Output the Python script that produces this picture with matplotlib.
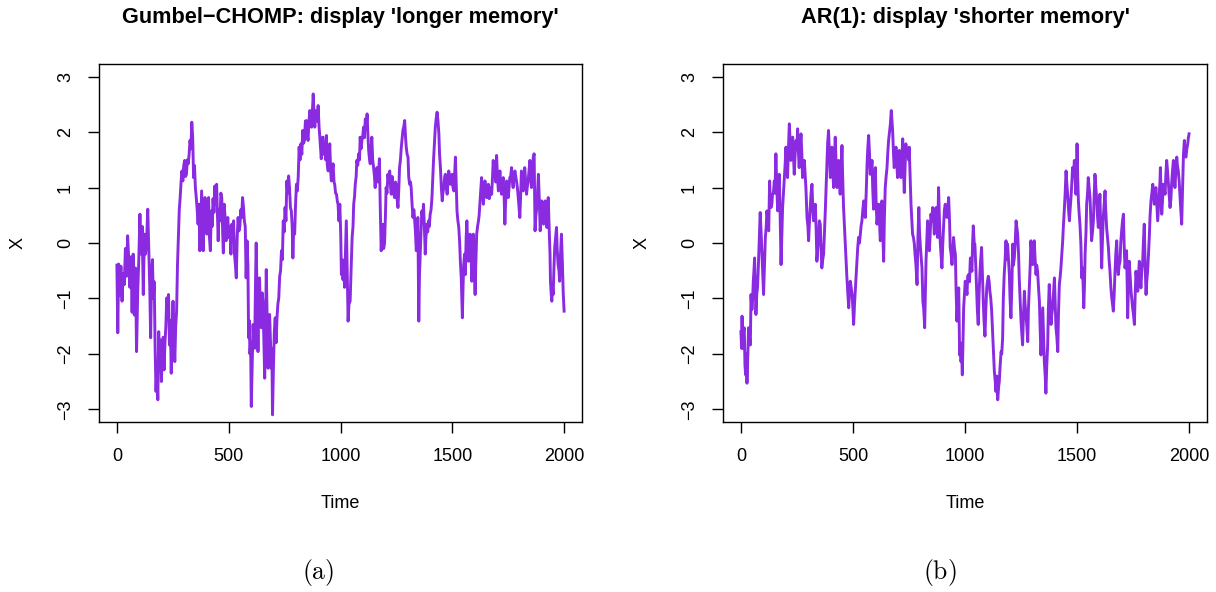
import numpy as np
from matplotlib import pyplot as plt

plt.rcParams['font.family'] = ['Liberation Sans', 'DejaVu Sans']
plt.rcParams['mathtext.fontset'] = 'cm'

# left panel: Gumbel-CHOMP series (time, value)
time_a = [0, 4, 8, 13, 18, 23, 28, 33, 38, 43, 48, 53, 58, 63, 68, 73, 78, 83, 88, 93,
          98, 103, 108, 113, 118, 123, 128, 133, 138, 143, 147, 151, 155, 159, 163, 167, 171, 175, 179, 183,
          187, 191, 195, 199, 203, 207, 211, 215, 219, 223, 227, 231, 235, 239, 243, 247, 251, 255, 259, 263,
          267, 271, 275, 279, 283, 287, 291, 295, 299, 303, 307, 311, 315, 319, 323, 327, 331, 335, 339, 343,
          347, 351, 355, 359, 363, 367, 371, 375, 379, 383, 386, 390, 394, 398, 402, 406, 410, 414, 418, 422,
          426, 430, 434, 438, 442, 446, 450, 453, 457, 461, 465, 469, 473, 476, 480, 484, 488, 492, 496, 500,
          505, 510, 514, 518, 522, 526, 530, 534, 538, 542, 546, 550, 554, 558, 562, 566, 570, 574, 578, 582,
          586, 589, 592, 595, 598, 601, 605, 609, 612, 616, 620, 623, 627, 631, 634, 638, 642, 646, 650, 653,
          657, 661, 665, 668, 672, 676, 680, 683, 687, 690, 693, 696, 700, 704, 708, 712, 716, 720, 724, 728,
          732, 736, 740, 744, 748, 752, 756, 760, 764, 768, 772, 776, 780, 784, 787, 791, 795, 799, 803, 807,
          811, 815, 819, 823, 827, 831, 835, 839, 843, 847, 851, 855, 859, 863, 867, 871, 875, 878, 882, 885,
          889, 892, 896, 900, 904, 907, 911, 914, 918, 922, 926, 930, 934, 937, 941, 945, 949, 952, 956, 959,
          963, 967, 971, 974, 978, 982, 986, 989, 993, 997, 1001, 1004, 1008, 1011, 1015, 1018, 1022, 1026, 1030, 1034,
          1038, 1043, 1048, 1052, 1056, 1059, 1063, 1066, 1070, 1073, 1077, 1081, 1085, 1088, 1092, 1096, 1100, 1103, 1107, 1111,
          1115, 1119, 1122, 1126, 1130, 1133, 1137, 1140, 1144, 1148, 1152, 1155, 1159, 1163, 1167, 1170, 1174, 1178, 1182, 1186,
          1189, 1193, 1197, 1201, 1204, 1208, 1212, 1216, 1220, 1224, 1227, 1231, 1234, 1238, 1242, 1246, 1249, 1253, 1257, 1261,
          1264, 1268, 1272, 1276, 1279, 1283, 1287, 1291, 1294, 1298, 1302, 1305, 1309, 1313, 1316, 1320, 1324, 1328, 1331, 1335,
          1339, 1343, 1346, 1350, 1353, 1357, 1361, 1364, 1368, 1371, 1375, 1379, 1382, 1386, 1390, 1394, 1397, 1401, 1405, 1409,
          1413, 1416, 1420, 1424, 1428, 1432, 1436, 1440, 1443, 1447, 1451, 1455, 1458, 1462, 1466, 1469, 1473, 1477, 1481, 1484,
          1488, 1492, 1495, 1499, 1503, 1507, 1510, 1514, 1518, 1521, 1525, 1529, 1533, 1536, 1540, 1545, 1548, 1551, 1555, 1558,
          1562, 1565, 1569, 1572, 1576, 1580, 1584, 1587, 1591, 1594, 1598, 1602, 1605, 1609, 1613, 1617, 1620, 1624, 1628, 1631,
          1635, 1639, 1642, 1646, 1650, 1654, 1657, 1661, 1665, 1669, 1672, 1676, 1680, 1683, 1687, 1691, 1694, 1698, 1702, 1706,
          1709, 1713, 1717, 1720, 1724, 1728, 1732, 1735, 1739, 1743, 1746, 1750, 1754, 1757, 1761, 1765, 1769, 1772, 1776, 1780,
          1784, 1787, 1791, 1795, 1799, 1802, 1806, 1809, 1813, 1817, 1821, 1824, 1828, 1832, 1835, 1839, 1843, 1847, 1850, 1854,
          1858, 1862, 1866, 1870, 1874, 1878, 1882, 1885, 1889, 1893, 1897, 1900, 1904, 1908, 1912, 1915, 1919, 1923, 1926, 1929,
          1932, 1934, 1937, 1939, 1942, 1945, 1948, 1951, 1955, 1958, 1962, 1966, 1969, 1973, 1977, 1980, 1984, 1988, 1992, 1996,
          2000]
x_a = [-0.40, -1.62, -0.38, -0.95, -0.42, -1.05, -0.55, -0.75, -0.10, -0.60, 0.13, -0.30, -0.80, -0.25, -1.25, -0.20, -1.30, -0.45, -1.96, -0.90,
       -0.30, 0.52, -0.20, 0.30, -0.93, 0.16, -0.20, 0.05, 0.61, -0.20, -0.80, -1.71, -0.60, -0.30, -1.00, -0.70, -1.90, -2.68, -2.20, -2.83,
       -1.60, -2.30, -1.75, -2.50, -1.95, -1.70, -2.29, -1.80, -1.50, -0.99, -1.30, -0.93, -1.84, -1.40, -2.35, -1.60, -1.05, -1.70, -2.14, -1.50,
       -1.23, -0.40, 0.10, 0.60, 0.82, 1.10, 1.30, 1.12, 1.40, 1.49, 1.20, 1.24, 1.50, 1.43, 1.60, 1.85, 1.70, 2.18, 1.90, 1.18,
       1.40, 1.00, 0.82, 0.60, 0.34, 0.70, -0.14, 0.40, 0.94, 0.30, -0.14, 0.50, 0.82, 0.20, 0.16, 0.60, 0.82, 0.10, -0.14, 0.58,
       0.30, 0.80, 0.55, 1.03, 0.70, 1.06, 0.50, 0.04, 0.60, 0.40, 0.90, 0.82, 0.20, -0.18, 0.70, 0.45, 0.04, 0.30, 0.46, 0.10,
       0.30, -0.20, 0.34, 0.10, 0.40, -0.20, -0.40, -0.63, 0.10, 0.46, 0.22, 0.30, 0.60, 0.46, 0.82, 0.65, 0.40, 0.30, -0.63, 0.04,
       -0.40, -1.71, -1.40, -2.00, -1.80, -2.95, -2.20, -1.47, -1.80, -1.90, -0.70, 0.00, -1.00, -1.96, -1.20, -0.63, -1.30, -1.53, -0.90, -1.05,
       -1.70, -2.44, -1.50, -0.48, -1.40, -2.26, -1.60, -1.29, -1.80, -2.26, -1.90, -3.10, -2.26, -1.60, -1.35, -1.80, -1.35, -1.10, -0.99, -0.60,
       -0.50, -0.14, -0.30, 0.40, 0.20, 0.64, 0.40, 1.12, 0.90, 1.21, 1.00, 0.64, 0.58, 0.30, -0.27, 0.30, 0.16, 0.70, 1.06, 0.94,
       1.20, 1.73, 1.50, 1.79, 1.60, 2.03, 1.80, 1.85, 2.20, 2.21, 1.95, 1.85, 2.20, 2.39, 2.10, 2.09, 2.45, 2.69, 2.30, 2.09,
       2.30, 2.39, 2.20, 2.48, 2.10, 1.94, 1.70, 1.52, 1.90, 1.91, 1.60, 1.79, 1.50, 1.94, 1.40, 1.30, 1.60, 1.79, 1.30, 1.12,
       1.30, 1.43, 1.10, 1.06, 0.90, 0.88, 0.75, 0.70, 0.40, 0.70, 0.16, -0.57, -0.30, -0.66, -0.40, -0.80, -0.20, 0.40, -0.50, -1.41,
       -1.10, -1.05, -0.40, 0.10, 0.30, 0.70, 0.85, 1.06, 1.20, 1.49, 1.40, 1.61, 1.50, 1.91, 1.70, 1.85, 1.95, 2.09, 1.90, 2.24,
       2.10, 2.33, 2.00, 1.67, 1.50, 1.43, 1.70, 1.91, 1.50, 1.36, 1.20, 1.00, 1.30, 1.36, 1.10, 1.18, 1.52, 0.60, -0.14, 0.20,
       0.34, -0.10, 0.00, 0.50, 1.00, 0.90, 1.24, 1.10, 1.30, 1.00, 0.88, 1.20, 1.06, 0.90, 0.82, 1.10, 1.06, 0.80, 0.64, 1.00,
       1.36, 1.50, 1.73, 1.90, 2.03, 2.10, 2.21, 1.90, 1.73, 1.60, 1.55, 1.20, 1.06, 1.10, 1.00, 0.70, 0.46, 0.60, 0.46, 0.20,
       -0.14, 0.20, 0.46, -1.41, -0.60, -0.14, 0.30, 0.58, 0.40, 0.70, 0.30, -0.20, 0.10, 0.34, 0.20, 0.40, 0.30, 0.52, 0.60, 0.82,
       1.20, 1.49, 1.80, 2.09, 2.25, 2.36, 2.20, 1.97, 1.60, 1.36, 1.00, 0.76, 0.90, 1.00, 1.20, 1.24, 1.00, 0.88, 1.10, 1.30,
       1.20, 1.06, 1.15, 1.24, 1.00, 0.94, 1.20, 1.55, 1.00, 0.58, 0.40, 0.28, 0.00, -0.33, -0.63, -1.35, -0.80, -0.39, -0.20, -0.57,
       0.10, 0.40, 0.00, -0.33, 0.00, 0.16, -0.20, -0.69, -0.30, 0.16, -0.40, -0.93, -0.40, 0.16, 0.30, 0.40, 0.50, 0.76, 1.00, 1.18,
       0.90, 0.70, 0.90, 1.12, 0.90, 0.82, 1.00, 1.06, 0.80, 0.88, 1.00, 0.88, 1.20, 1.49, 1.20, 1.36, 1.10, 1.58, 1.20, 0.94,
       1.10, 1.30, 1.00, 0.88, 1.10, 1.18, 0.80, 0.34, 0.80, 1.12, 1.00, 0.82, 1.00, 1.18, 1.20, 1.36, 1.10, 1.00, 1.20, 1.30,
       1.20, 1.12, 1.00, 0.82, 0.60, 0.46, 0.90, 1.30, 1.10, 0.94, 1.20, 1.36, 1.10, 0.88, 1.00, 1.12, 1.30, 1.49, 1.20, 1.00,
       1.30, 1.55, 1.61, 0.22, 0.50, 0.64, 1.00, 1.24, 0.80, 0.22, 0.50, 0.76, 0.60, 0.34, 0.50, 0.76, 0.50, 0.28, 0.60, 0.82,
       0.40, 0.16, -0.20, -0.69, -0.90, -1.05, -0.80, -0.93, -0.40, -0.08, 0.10, 0.28, -0.10, -0.39, -0.50, -0.69, -0.20, 0.16, -0.33, -0.90,
       -1.23]

# right panel: AR(1) series
time_b = [0, 3, 5, 8, 11, 15, 18, 21, 24, 27, 31, 34, 38, 42, 45, 49, 52, 55, 58, 61,
          64, 67, 71, 74, 78, 82, 86, 90, 94, 97, 101, 105, 109, 113, 116, 120, 124, 128, 131, 134,
          138, 141, 145, 149, 152, 156, 160, 164, 167, 171, 175, 179, 183, 186, 190, 193, 197, 201, 205, 208,
          212, 216, 220, 223, 227, 231, 235, 238, 242, 246, 250, 253, 257, 260, 264, 268, 272, 275, 279, 283,
          287, 290, 293, 295, 299, 302, 306, 310, 313, 317, 321, 324, 328, 332, 336, 339, 343, 347, 350, 354,
          358, 361, 365, 369, 372, 376, 380, 384, 387, 391, 395, 399, 402, 406, 410, 414, 417, 421, 425, 429,
          432, 436, 440, 443, 447, 451, 454, 458, 462, 466, 469, 473, 477, 481, 484, 488, 492, 496, 500, 503,
          507, 510, 514, 518, 521, 525, 529, 533, 536, 540, 544, 548, 551, 555, 559, 563, 566, 570, 574, 577,
          581, 585, 588, 592, 596, 600, 603, 607, 611, 615, 618, 622, 626, 629, 633, 637, 640, 644, 648, 652,
          655, 659, 663, 667, 671, 674, 677, 681, 684, 688, 692, 696, 699, 703, 707, 711, 714, 718, 722, 725,
          729, 733, 736, 740, 744, 748, 751, 755, 759, 763, 766, 770, 774, 777, 781, 784, 786, 790, 794, 797,
          801, 805, 808, 812, 816, 820, 823, 826, 830, 833, 837, 841, 845, 848, 852, 856, 860, 863, 867, 871,
          875, 878, 882, 886, 890, 893, 897, 901, 905, 908, 912, 916, 920, 923, 927, 931, 934, 938, 942, 946,
          949, 953, 957, 960, 964, 968, 972, 974, 976, 979, 982, 985, 988, 991, 994, 998, 1001, 1005, 1009, 1012,
          1016, 1020, 1024, 1027, 1031, 1034, 1037, 1041, 1044, 1048, 1052, 1055, 1059, 1063, 1067, 1070, 1074, 1078, 1082, 1085,
          1089, 1093, 1097, 1100, 1104, 1108, 1111, 1115, 1119, 1122, 1126, 1129, 1131, 1135, 1138, 1142, 1146, 1150, 1153, 1157,
          1161, 1164, 1168, 1171, 1175, 1179, 1183, 1186, 1190, 1194, 1198, 1201, 1205, 1209, 1213, 1216, 1220, 1224, 1228, 1231,
          1235, 1239, 1242, 1246, 1250, 1253, 1257, 1261, 1265, 1268, 1272, 1276, 1280, 1283, 1287, 1291, 1294, 1298, 1302, 1305,
          1309, 1313, 1317, 1320, 1324, 1328, 1332, 1335, 1339, 1343, 1347, 1350, 1354, 1358, 1361, 1365, 1369, 1372, 1376, 1380,
          1384, 1387, 1391, 1395, 1399, 1402, 1406, 1410, 1414, 1417, 1421, 1425, 1428, 1432, 1436, 1439, 1443, 1447, 1451, 1454,
          1458, 1462, 1466, 1469, 1473, 1477, 1480, 1484, 1488, 1491, 1495, 1498, 1500, 1503, 1506, 1510, 1513, 1517, 1521, 1525,
          1530, 1533, 1536, 1540, 1543, 1547, 1550, 1554, 1558, 1562, 1565, 1569, 1573, 1576, 1580, 1584, 1588, 1591, 1595, 1599,
          1602, 1606, 1610, 1613, 1617, 1621, 1625, 1628, 1632, 1636, 1640, 1643, 1647, 1651, 1655, 1658, 1662, 1666, 1669, 1673,
          1677, 1680, 1684, 1688, 1692, 1695, 1699, 1703, 1707, 1710, 1714, 1718, 1721, 1724, 1726, 1730, 1733, 1737, 1741, 1744,
          1748, 1752, 1756, 1759, 1763, 1767, 1771, 1774, 1778, 1782, 1785, 1789, 1793, 1796, 1800, 1804, 1808, 1811, 1815, 1819,
          1823, 1826, 1830, 1834, 1838, 1841, 1845, 1849, 1852, 1856, 1860, 1863, 1867, 1870, 1872, 1875, 1878, 1882, 1885, 1889,
          1893, 1896, 1900, 1904, 1908, 1911, 1915, 1919, 1922, 1926, 1930, 1933, 1937, 1941, 1945, 1948, 1952, 1956, 1959, 1963,
          1967, 1969, 1971, 1975, 1979, 1982, 1986, 1990, 1994, 1997, 2000]
x_b = [-1.60, -1.90, -1.32, -1.90, -1.60, -1.53, -2.20, -2.38, -2.00, -2.53, -2.00, -1.53, -1.70, -1.84, -0.93, -1.20, -1.05, -0.70, -0.51, -0.27,
       -0.80, -1.29, -0.90, -0.81, -0.40, 0.10, 0.55, 0.20, -0.20, -0.50, -0.93, -0.40, 0.10, 0.30, 0.58, 0.40, 0.22, 1.12, 0.80, 0.64,
       0.70, 0.88, 0.90, 1.12, 0.90, 1.61, 1.00, 0.58, 1.00, 1.24, 0.50, -0.39, 0.20, 0.64, 0.90, 1.12, 1.40, 1.73, 1.40, 1.18,
       1.70, 2.15, 1.80, 1.49, 1.70, 1.91, 1.50, 1.24, 1.60, 1.85, 1.70, 2.06, 1.60, 1.36, 1.70, 1.97, 1.60, 1.18, 1.40, 1.49,
       1.20, 1.00, 0.70, 0.46, 0.30, 0.04, 0.40, 0.70, 0.90, 1.06, 0.60, 0.40, 0.60, 0.70, 0.20, -0.33, -0.10, 0.10, 0.40, 0.34,
       -0.10, -0.45, -0.30, -0.20, 0.10, 0.52, 1.00, 1.49, 1.80, 2.03, 1.60, 1.18, 1.40, 1.73, 1.30, 1.00, 1.50, 1.91, 1.40, 1.00,
       1.20, 1.49, 1.10, 0.88, 1.30, 1.76, 1.20, 0.64, 0.30, -0.08, -0.30, -0.63, -0.90, -1.17, -0.90, -0.69, -0.80, -0.93, -1.20, -1.47,
       -1.10, -0.87, -0.60, -0.33, -0.10, 0.10, 0.00, 0.16, 0.30, 0.40, 0.60, 0.76, 0.60, 0.46, 0.90, 1.43, 1.70, 1.94, 1.60, 1.24,
       1.30, 1.49, 1.00, 0.61, 1.00, 1.36, 0.80, 0.34, 0.50, 0.70, 0.40, 0.04, 0.40, 0.76, 0.20, -0.33, 0.40, 1.00, 1.20, 1.36,
       1.60, 1.85, 2.00, 2.15, 2.39, 2.20, 2.03, 1.60, 1.36, 1.50, 1.73, 1.40, 1.18, 1.40, 1.67, 1.40, 1.18, 1.50, 1.88, 1.40,
       0.91, 1.40, 1.79, 1.60, 1.67, 1.50, 1.73, 1.20, 0.70, 0.40, 0.16, 0.10, -0.02, -0.20, -0.39, -0.60, -0.75, 0.10, 0.64, 0.20,
       -0.08, -0.30, -0.45, -1.05, -1.20, -1.53, -0.90, -0.33, 0.10, 0.40, 0.10, -0.14, 0.20, 0.52, 0.40, 0.64, 0.40, 0.16, 0.40, 0.64,
       0.30, 0.10, 1.00, 0.40, -0.02, -0.20, -0.45, 0.00, 0.34, 0.60, 0.70, 0.50, 0.46, 0.60, 0.82, 0.40, -0.08, -0.20, -0.39, -0.10,
       0.10, -0.10, -0.20, -0.80, -1.41, -1.00, -0.81, -1.50, -2.02, -1.80, -2.14, -2.00, -2.38, -1.80, -1.17, -0.90, -0.69, -0.80, -0.93, -0.60,
       -0.57, -0.70, -0.27, -0.40, -0.51, 0.00, 0.31, 0.00, -0.02, -0.40, -0.87, -1.20, -1.47, -0.90, -0.51, -0.30, -0.08, -0.60, -1.11, -1.40,
       -1.68, -1.20, -0.81, -0.70, -0.60, -0.70, -0.87, -1.00, -1.23, -1.50, -1.84, -2.10, -2.32, -2.50, -2.68, -2.40, -2.83, -2.60, -2.50, -2.20,
       -1.96, -2.00, -1.71, -1.00, -0.57, -0.30, 0.04, -0.30, -0.02, -0.30, -0.57, -1.00, -1.35, -0.80, -0.02, -0.40, -0.27, 0.00, 0.40, 0.30,
       0.16, -0.20, -0.63, -1.00, -1.41, -1.60, -1.84, -1.30, -0.87, -1.10, -1.29, -1.50, -1.78, -1.20, -0.81, -0.40, 0.04, -0.20, -0.39, -0.10,
       0.04, -0.30, -0.57, -0.40, -0.51, -0.80, -1.05, -1.50, -2.02, -1.60, -1.17, -1.60, -2.14, -2.40, -2.71, -2.20, -1.84, -1.20, -0.75, -1.10,
       -1.47, -1.30, -1.17, -0.90, -0.63, -1.00, -1.53, -1.70, -1.96, -1.30, -0.75, -0.60, -0.45, -0.20, 0.04, 0.30, 0.58, 0.90, 1.30, 1.10,
       0.88, 0.60, 0.40, 0.60, 0.82, 1.10, 1.36, 1.20, 1.49, 1.20, 0.88, 1.30, 1.79, 1.20, 0.76, 0.50, 0.34, 0.00, -0.63, -0.45,
       -1.17, -0.80, -0.20, 0.20, 0.70, 0.90, 1.18, 1.00, 0.82, 0.40, 0.04, 0.20, 0.40, 0.80, 1.24, 1.00, 0.76, 0.50, 0.28, 0.60,
       0.88, 0.20, -0.45, 0.00, 0.46, 0.70, 0.94, 0.60, 0.28, 0.10, -0.08, -0.30, -0.51, -0.80, -0.99, -1.10, -1.23, -0.90, -0.57, -0.20,
       0.04, -0.30, -0.57, -0.40, -0.33, 0.00, 0.22, 0.40, 0.52, 0.00, -0.45, -0.30, -0.14, -0.80, -1.35, -0.70, -0.33, -0.60, -0.87, -1.00,
       -1.17, -1.30, -1.47, -1.00, -0.51, -0.70, -0.87, -0.60, -0.33, -0.60, -0.81, -0.50, -0.33, 0.00, 0.34, -0.40, -0.93, -0.70, -0.51, -0.20,
       0.16, 0.50, 0.76, 0.90, 1.06, 0.90, 0.70, 0.90, 1.00, 0.70, 0.40, 0.60, 0.88, 1.10, 1.36, 0.90, 0.52, 0.80, 1.06, 1.00,
       0.88, 1.20, 1.49, 1.30, 1.06, 0.90, 0.64, 0.80, 1.06, 1.30, 1.49, 1.20, 1.00, 1.30, 1.55, 1.40, 1.30, 1.10, 0.88, 0.60,
       0.34, 0.70, 1.00, 1.60, 1.85, 1.60, 1.55, 1.70, 1.79, 1.90, 1.97]

titles = ["Gumbel\u2212CHOMP: display 'longer memory'", "AR(1): display 'shorter memory'"]
captions = ['(a)', '(b)']
xticks = [0, 500, 1000, 1500, 2000]
yticks = [-3, -2, -1, 0, 1, 2, 3]

W, H = 1216, 592
fig = plt.figure(figsize=(W / 100, H / 100), dpi=100)

# axes boxes in pixels (left, right), same top / bottom
boxes = [(99, 582), (723, 1207)]
top, bottom = 64, 422
caption_x = [318, 940]

series = [(time_a, x_a), (time_b, x_b)]

for i in range(2):
    l, r = boxes[i]
    ax = fig.add_axes([l / W, 1 - bottom / H, (r - l) / W, (bottom - top) / H])
    t, v = series[i]
    ax.plot(t, v, color='#8A2BE2', linewidth=2.1, solid_joinstyle='round')
    ax.set_xlim(-80, 2080)
    ax.set_ylim(-3.23, 3.23)
    ax.set_xticks(xticks)
    ax.set_yticks(yticks)
    ax.tick_params(direction='out', length=8, width=1, labelsize=13, color='black')
    ax.tick_params(axis='x', pad=11)
    ax.tick_params(axis='y', pad=10)
    for lab in ax.get_yticklabels():
        lab.set_rotation(90)
        lab.set_va('center')
    for s in ax.spines.values():
        s.set_linewidth(1.0)
        s.set_color('black')

    cx = (l + r) / 2
    fig.text(cx / W, 1 - 18 / H, titles[i], ha='center', va='center',
             fontsize=15.7, fontweight='bold')
    fig.text(cx / W, 1 - 503 / H, 'Time', ha='center', va='center', fontsize=13)
    fig.text((l - 81) / W, 1 - 243 / H, 'X', ha='center', va='center',
             fontsize=13, rotation=90)
    fig.text(caption_x[i] / W, 1 - 572 / H, r'$\mathrm{' + captions[i] + '}$',
             ha='center', va='center', fontsize=18.5)

plt.savefig('out.png', dpi=100)
